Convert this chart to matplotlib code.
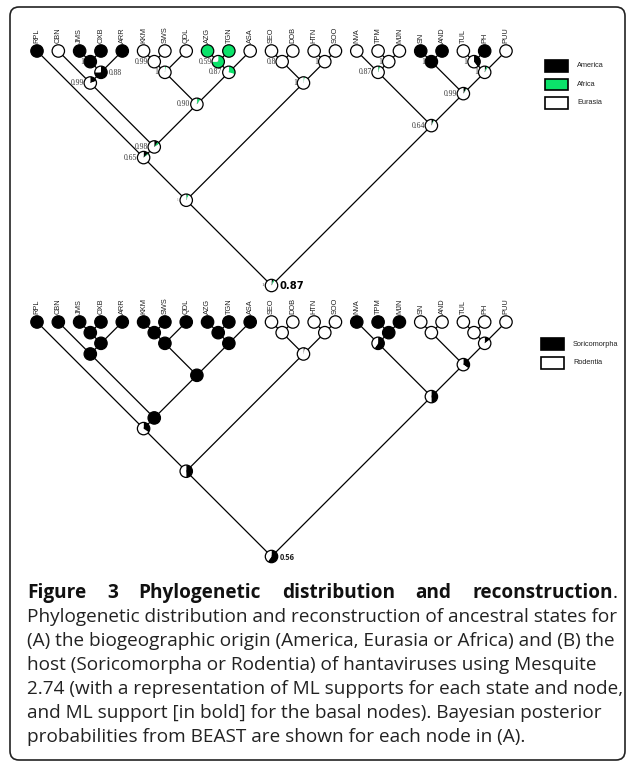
import matplotlib
matplotlib.use("Agg")
import matplotlib.pyplot as plt
from matplotlib.patches import Wedge, Circle, Rectangle, FancyBboxPatch

# ---- data ----
tips = ["RPL", "CBN", "JMS", "OXB", "ARR", "KKM", "SWS", "QDL", "AZG", "TGN", "ASA",
        "SEO", "DOB", "HTN", "SOO", "NVA", "TPM", "MJN", "SN", "AND", "TUL", "PH", "PUU"]

tree = (((("RPL", (("CBN", (("JMS", "OXB"), "ARR")),
                   ((("KKM", "SWS"), "QDL"), (("AZG", "TGN"), "ASA")))),
          (("SEO", "DOB"), ("HTN", "SOO"))),
         (("NVA", ("TPM", "MJN")), (("SN", "AND"), (("TUL", "PH"), "PUU")))))

# (A) biogeographic origin: 0 America, 1 Africa, 2 Eurasia
geo_states = ["America", "Africa", "Eurasia"]
geo_tips = [0, 2, 0, 0, 0, 2, 2, 2, 1, 1, 2,
            2, 2, 2, 2, 2, 2, 2, 0, 0, 2, 0, 2]
# internal nodes, post-order: [America, Africa, Eurasia]
geo_nodes = [[1, 0, 0], [0.75, 0, 0.25], [0.2, 0, 0.8], [0, 0, 1], [0, 0.03, 0.97],
             [0, 0.75, 0.25], [0, 0.3, 0.7], [0.02, 0.08, 0.9], [0.1, 0.06, 0.84],
             [0.12, 0.03, 0.85], [0, 0, 1], [0, 0, 1], [0.01, 0.03, 0.96],
             [0.02, 0.05, 0.93], [0, 0, 1], [0.02, 0.04, 0.94], [1, 0, 0],
             [0.4, 0, 0.6], [0.05, 0.04, 0.91], [0.08, 0.02, 0.9], [0.06, 0.02, 0.92],
             [0.05, 0.04, 0.91]]
# Bayesian posterior probabilities, post-order
geo_pp = ["1", "0.88", "0.99", "0.99", "1", "0.59", "0.87", "0.90", "0.98", "0.65",
          "0.8", "1", "1", "1", "1", "0.87", "1", "1", "1", "0.99", "0.64", "1"]
geo_basal = "0.87"

# (B) host: 0 Soricomorpha, 1 Rodentia
host_states = ["Soricomorpha", "Rodentia"]
host_tips = [0, 0, 0, 0, 0, 0, 0, 0, 0, 0, 0,
             1, 1, 1, 1, 0, 0, 0, 1, 1, 1, 1, 1]
host_nodes = [[1, 0], [1, 0], [1, 0], [1, 0], [1, 0], [1, 0], [1, 0], [1, 0], [1, 0],
              [0.35, 0.65], [0, 1], [0, 1], [0.04, 0.96], [0.5, 0.5], [1, 0],
              [0.6, 0.4], [0, 1], [0, 1], [0.15, 0.85], [0.35, 0.65], [0.5, 0.5],
              [0.6, 0.4]]
host_basal = "0.56"

caption_title = "Figure 3 Phylogenetic distribution and reconstruction"
caption_lines = [
    "Phylogenetic distribution and reconstruction of ancestral states for",
    "(A) the biogeographic origin (America, Eurasia or Africa) and (B) the",
    "host (Soricomorpha or Rodentia) of hantaviruses using Mesquite",
    "2.74 (with a representation of ML supports for each state and node,",
    "and ML support [in bold] for the basal nodes). Bayesian posterior",
    "probabilities from BEAST are shown for each node in (A).",
]

GEO_COLORS = ["black", "#0be36a", "white"]
HOST_COLORS = ["black", "white"]

W, H = 627, 771
fig = plt.figure(figsize=(W / 100, H / 100), dpi=100)
ax = fig.add_axes([0, 0, 1, 1])
ax.set_xlim(0, W)
ax.set_ylim(H, 0)
ax.axis("off")

x0, x1 = 37, 506
dx = (x1 - x0) / (len(tips) - 1)
tip_x = {name: x0 + i * dx for i, name in enumerate(tips)}
R = 6.2


def layout(node, tip_y, internal):
    """returns (left, right, x, y); fills internal list in post-order"""
    if isinstance(node, str):
        x = tip_x[node]
        return x, x, x, tip_y
    kids = [layout(c, tip_y, internal) for c in node]
    left = min(k[0] for k in kids)
    right = max(k[1] for k in kids)
    x = (left + right) / 2
    y = tip_y + (right - left) / 2
    internal.append((x, y, [(k[2], k[3]) for k in kids]))
    return left, right, x, y


def pie(x, y, fracs, colors):
    start = -90
    for f, c in zip(fracs, colors):
        if f <= 0:
            continue
        ax.add_patch(Wedge((x, y), R, start, start + 360 * f, facecolor=c,
                           edgecolor="none", zorder=3))
        start += 360 * f
    ax.add_patch(Circle((x, y), R, facecolor="none", edgecolor="black", lw=0.9, zorder=4))


def draw_tree(tip_y, tip_states, node_fracs, colors):
    internal = []
    layout(tree, tip_y, internal)
    for x, y, kids in internal:
        for kx, ky in kids:
            ax.plot([x, kx], [y, ky], color="black", lw=0.9, zorder=1,
                    solid_capstyle="butt")
    for name, s in zip(tips, tip_states):
        fr = [0] * len(colors)
        fr[s] = 1
        pie(tip_x[name], tip_y, fr, colors)
        ax.text(tip_x[name], tip_y - 8, name, rotation=90, ha="center", va="bottom",
                fontsize=5.3, family="Liberation Sans", color="#222", zorder=6)
    for (x, y, _), fr in zip(internal, node_fracs):
        pie(x, y, fr, colors)
    return internal


# frame
ax.add_patch(FancyBboxPatch((10, 7), 615, 753, boxstyle="round,pad=0,rounding_size=9",
                            facecolor="none", edgecolor="#222", lw=1.2, zorder=0))

# (A) tree
nodes_a = draw_tree(51, geo_tips, geo_nodes, GEO_COLORS)
for i, ((x, y, _), lab) in enumerate(zip(nodes_a, geo_pp)):
    if i == len(nodes_a) - 1:
        ax.text(x - 7.5, y, lab, ha="right", va="center", fontsize=3.5,
                family="Liberation Serif", color="#444", zorder=6)
        ax.text(x + 8, y + 0.5, geo_basal, ha="left", va="center", fontsize=7.2,
                family=["Liberation Sans Narrow", "DejaVu Sans"], weight="bold", zorder=6)
    elif i == 13:
        ax.text(x - 8, y, lab, ha="right", va="center", fontsize=2.5,
                family="Liberation Serif", color="#888", zorder=6)
    elif lab == "0.88":
        ax.text(x + 8, y + 1, lab, ha="left", va="center", fontsize=5.5,
                family="Liberation Serif", color="#333", zorder=6)
    else:
        ax.text(x - 6.5, y, lab, ha="right", va="center", fontsize=5.5,
                family="Liberation Serif", color="#333", zorder=6)

# (B) tree
nodes_b = draw_tree(322, host_tips, host_nodes, HOST_COLORS)
rx, ry, _ = nodes_b[-1]
ax.text(rx + 8, ry + 0.5, host_basal, ha="left", va="center", fontsize=5.5,
        family="Open Sans", weight="bold", color="#222", zorder=6)

# legends
for i, (lab, c) in enumerate(zip(geo_states, GEO_COLORS)):
    y = 60 + i * 18.5
    ax.add_patch(Rectangle((545, y), 23, 11.5, facecolor=c, edgecolor="black", lw=1.2))
    ax.text(577, y + 5.8, lab, ha="left", va="center", fontsize=5.3,
            family="Liberation Sans", color="#222")
for i, (lab, c) in enumerate(zip(host_states, HOST_COLORS)):
    y = 338 + i * 19
    ax.add_patch(Rectangle((541, y), 23, 12, facecolor=c, edgecolor="black", lw=1.2))
    ax.text(573, y + 6, lab, ha="left", va="center", fontsize=5.3,
            family="Liberation Sans", color="#222")

# caption
renderer = fig.canvas.get_renderer()
cap_left, cap_right = 27, 618
probe = ax.text(0, 0, caption_lines[0], fontsize=12, family="Open Sans")
fs = 12 * (614 - cap_left) / probe.get_window_extent(renderer).width
probe.remove()

line_y = [593 + 24 * k for k in range(7)]

words = caption_title.split()
wtexts = [ax.text(0, line_y[0], w, fontsize=fs, family="Open Sans", weight="bold",
                  va="center", ha="left", color="#111") for w in words]
dot = ax.text(0, line_y[0], ".", fontsize=fs, family="Open Sans", va="center",
              ha="left", color="#111")
widths = [t.get_window_extent(renderer).width for t in wtexts]
dot_w = dot.get_window_extent(renderer).width
gap = (cap_right - cap_left - sum(widths) - dot_w) / (len(words) - 1)
xpos = cap_left
for t, w in zip(wtexts, widths):
    t.set_x(xpos)
    xpos += w + gap
dot.set_x(xpos - gap)

for k, line in enumerate(caption_lines):
    ax.text(cap_left, line_y[k + 1], line, fontsize=fs, family="Open Sans",
            va="center", ha="left", color="#222")

fig.savefig("out.png", dpi=100)
